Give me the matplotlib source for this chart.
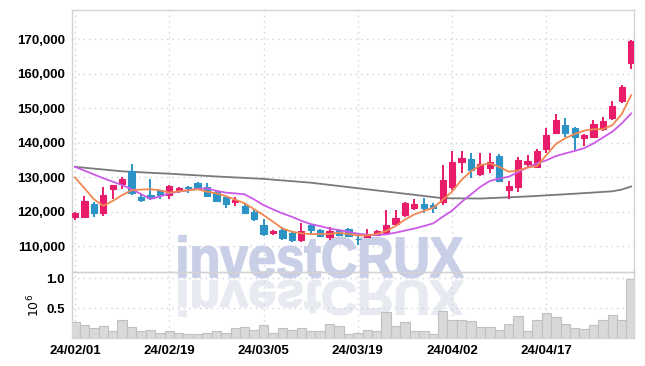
import matplotlib
matplotlib.use('Agg')
import matplotlib.pyplot as plt
import numpy as np
from matplotlib.font_manager import FontProperties
from matplotlib.textpath import TextPath
from matplotlib.patches import PathPatch, Rectangle
from matplotlib.transforms import Affine2D

# Price data (KRW)
opens = [118500, 118500, 122200, 119500, 126500, 128000, 131800, 124300, 124800, 126200,
         124800, 126300, 127200, 128400, 127200, 125800, 124300, 122900, 121600, 120000,
         116100, 113700, 114600, 113700, 111700, 116100, 114800, 112500, 114800, 114900,
         112100, 112700, 113200, 113700, 116400, 119000, 121100, 122200, 121900, 122900,
         127200, 134300, 135200, 130900, 132800, 136200, 126300, 127200, 133800, 133000,
         138100, 142900, 145100, 144200, 141400, 141700, 143900, 147100, 152200, 163000]
highs = [119800, 124600, 122900, 127200, 127800, 130100, 133700, 125000, 129400, 126300,
         127700, 127200, 127300, 128500, 128200, 126200, 124400, 124300, 122400, 120600,
         118000, 114600, 115600, 114300, 116600, 116500, 115000, 115600, 115000, 115300,
         113500, 114900, 114700, 120400, 120400, 122700, 123600, 124100, 122400, 133500,
         137700, 137700, 137100, 136900, 136900, 136600, 129000, 135900, 136300, 138100,
         144400, 148300, 147100, 144600, 142500, 146600, 147400, 152200, 156700, 169800]
lows = [117500, 118300, 118500, 118800, 123800, 126500, 124800, 122700, 123400, 123800,
        123600, 125300, 125300, 126700, 124300, 122900, 121200, 121600, 119400, 117300,
        112900, 113300, 111700, 111200, 111100, 113200, 112500, 111700, 112900, 112500,
        110300, 112400, 113000, 113500, 115900, 118500, 120400, 119700, 119500, 121900,
        126300, 131100, 129900, 130400, 131300, 128500, 123800, 125800, 133000, 132800,
        137100, 142500, 141700, 137900, 139100, 141300, 143500, 146600, 151600, 161300]
closes = [119700, 123000, 119700, 124800, 127700, 129500, 125300, 123400, 124000, 124800,
          127400, 127000, 126900, 126900, 124600, 123200, 122200, 123500, 119500, 118000,
          113500, 114400, 112400, 111700, 114400, 114600, 112900, 114400, 113200, 112900,
          112000, 113400, 114400, 116100, 118200, 122600, 122200, 121100, 121200, 129200,
          134300, 135700, 132100, 133800, 134400, 129000, 127400, 135000, 134600, 137600,
          142200, 146600, 142700, 141700, 142100, 145300, 146400, 150600, 156100, 169600]

# Volume (millions of shares)
volume = [0.27, 0.21, 0.16, 0.20, 0.11, 0.30, 0.18, 0.11, 0.13, 0.09,
          0.11, 0.09, 0.06, 0.06, 0.09, 0.11, 0.09, 0.17, 0.18, 0.14,
          0.22, 0.09, 0.16, 0.14, 0.17, 0.11, 0.11, 0.23, 0.20, 0.07,
          0.09, 0.13, 0.11, 0.43, 0.20, 0.27, 0.12, 0.11, 0.06, 0.45,
          0.30, 0.30, 0.28, 0.18, 0.18, 0.13, 0.23, 0.37, 0.12, 0.30,
          0.42, 0.35, 0.23, 0.17, 0.15, 0.22, 0.30, 0.38, 0.30, 0.98]

# Moving averages
ma_short = [129900, 126800, 123600, 121700, 123100, 124800, 126200, 126400, 126500, 126200,
            125500, 125900, 126200, 126500, 125800, 125300, 124500, 123500, 122400, 120700,
            119000, 117100, 115100, 114200, 113700, 113500, 113500, 113500, 113900, 113500,
            113100, 113100, 113500, 114400, 115800, 117700, 119200, 120200, 121100, 123400,
            125800, 129200, 131700, 133500, 134000, 133000, 131600, 131900, 132800, 133200,
            136400, 139600, 141300, 142500, 143500, 143900, 143900, 145100, 148300, 153800]
ma_mid = [133000, 131900, 130800, 129700, 128700, 127700, 126500, 125100, 123700, 124400,
          125300, 125800, 126200, 126600, 126750, 126050, 125500, 125300, 125000, 123550,
          121900, 120650, 119500, 118500, 117350, 116400, 115800, 115100, 114640, 114150,
          113600, 113300, 113200, 113400, 113900, 114500, 115100, 115800, 116600, 118500,
          120300, 122800, 125000, 127200, 128900, 129600, 130100, 131500, 132800, 134000,
          134900, 136100, 136900, 137600, 138400, 139800, 141500, 143200, 145600, 148500]
ma_long_idx = [0, 5, 10, 15, 20, 25, 30, 35, 39, 43, 48, 53, 57, 58, 59]
ma_long = [133000, 131700, 131000, 130200, 129500, 128400, 126800, 125200, 123900,
           123800, 124400, 125200, 125900, 126400, 127300]

tick_pos = [0, 10, 20, 30, 40, 50]
tick_labels = ['24/02/01', '24/02/19', '24/03/05', '24/03/19', '24/04/02', '24/04/17']

up_color = '#e81c6b'
down_color = '#2b93c6'
grid_color = '#cdd1e2'
spine_color = '#d3d3d3'

tick_font = FontProperties(family='Liberation Sans', weight='bold', size=9.5)

fig = plt.figure(figsize=(6.45, 3.66), dpi=100)
ax = fig.add_axes([0.1116, 0.256, 0.8714, 0.7167])
axv = fig.add_axes([0.1116, 0.0765, 0.8714, 0.1795], sharex=ax)
for a in (ax, axv):
    a.set_facecolor('none')
    for s in a.spines.values():
        s.set_color(spine_color)
        s.set_linewidth(1.0)
    a.grid(True, linestyle=(0, (1, 3)), color=grid_color, linewidth=1.0)
    a.tick_params(length=0, pad=5)
    a.set_axisbelow(True)

x = np.arange(len(closes))

# candlesticks
for i in x:
    o, h, l, c = opens[i], highs[i], lows[i], closes[i]
    col = up_color if c >= o else down_color
    ax.vlines(i, l, h, color=col, linewidth=1.4, zorder=3)
    ax.add_patch(Rectangle((i - 0.33, min(o, c)), 0.66, max(abs(c - o), 150),
                           facecolor=col, edgecolor=col, linewidth=0.8, zorder=4))

ax.plot(ma_long_idx, ma_long, color='#7a7a7a', linewidth=1.3, zorder=2)
ax.plot(x, ma_mid, color='#cc5ae8', linewidth=1.3, zorder=5)
ax.plot(x, ma_short, color='#f08850', linewidth=1.3, zorder=5)

ax.set_xlim(-0.32, 59.3)
ax.set_ylim(102400, 178500)
ax.set_yticks([110000, 120000, 130000, 140000, 150000, 160000, 170000])
ax.set_yticklabels(['{:,}'.format(v) for v in ax.get_yticks().astype(int)])
for lab in ax.get_yticklabels():
    lab.set_fontproperties(tick_font)
ax.tick_params(axis='x', labelbottom=False)

# volume
axv.bar(x, volume, width=1.0, color='#d9d9d9', edgecolor='#c0c0c0', linewidth=0.8, zorder=3)
axv.set_ylim(0, 1.1)
axv.set_yticks([0.5, 1.0])
axv.set_yticklabels(['0.5', '1.0'])
axv.set_xticks(tick_pos)
axv.set_xticklabels(tick_labels)
for lab in axv.get_yticklabels() + axv.get_xticklabels():
    lab.set_fontproperties(tick_font)
axv.set_ylabel(r'$10^6$', fontsize=9, labelpad=3)

# watermark
wm_font = FontProperties(family='Liberation Sans', weight='bold')
tp = TextPath((0, 0), 'investCRUX', size=1, prop=wm_font)
bb = tp.get_extents()
sx = 284.0 / bb.width
sy = 41.0 / 0.72
to_fig = Affine2D().scale(1 / 645.0, 1 / 366.0)
main_tr = Affine2D().translate(-bb.x0, 0).scale(sx, sy).translate(179, 366 - 277) + to_fig
refl_tr = Affine2D().translate(-bb.x0, 0).scale(sx, -sy * 0.85).translate(179, 366 - 281) + to_fig
fig.patches.append(PathPatch(refl_tr.transform_path(tp), facecolor='#e8eaf1', edgecolor='#e8eaf1',
                             linewidth=1.2, transform=fig.transFigure, zorder=-1))
fig.patches.append(PathPatch(main_tr.transform_path(tp), facecolor='#c9cfe6', edgecolor='#c9cfe6',
                             linewidth=1.2, transform=fig.transFigure, zorder=-1))

fig.savefig('out.png', dpi=100)
